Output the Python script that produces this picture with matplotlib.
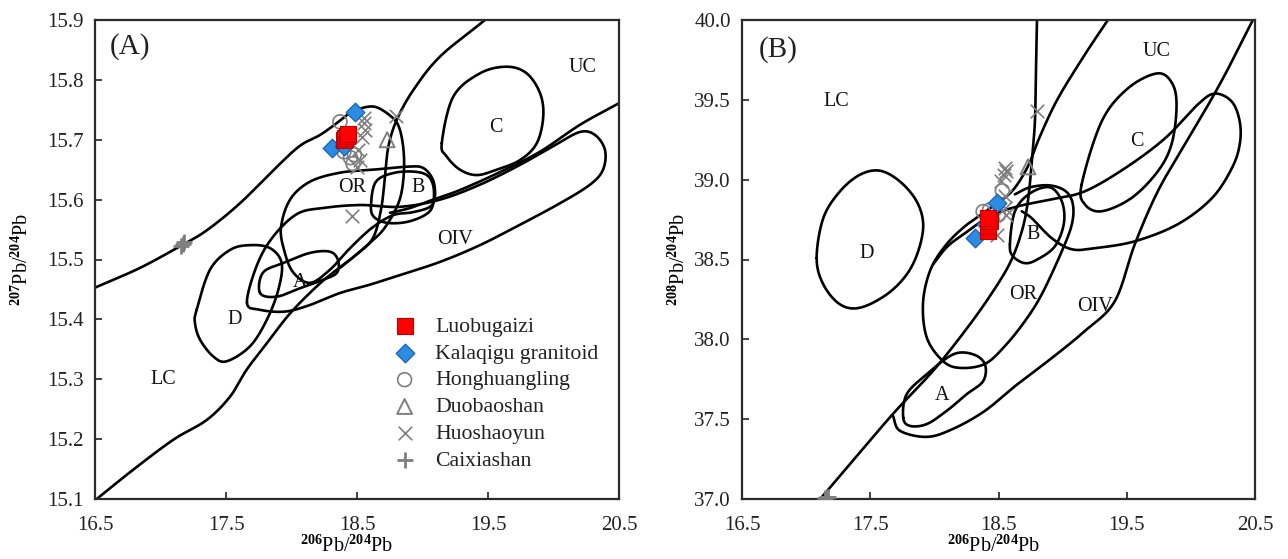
import numpy as np
import matplotlib
matplotlib.use("Agg")
import matplotlib.pyplot as plt

plt.rcParams['font.family'] = ['Liberation Serif', 'DejaVu Serif']
plt.rcParams['mathtext.fontset'] = 'custom'
plt.rcParams['mathtext.rm'] = 'Liberation Serif'
plt.rcParams['mathtext.bf'] = 'Liberation Serif:bold'

# ---------------- Panel A : 207Pb/204Pb vs 206Pb/204Pb ----------------
A_xlim = (16.5, 20.5)
A_ylim = (15.1, 15.9)
A_xticks = [16.5, 17.5, 18.5, 19.5, 20.5]
A_yticks = [15.1, 15.2, 15.3, 15.4, 15.5, 15.6, 15.7, 15.8, 15.9]

# open curves
A_curve1_x = [16.500, 16.844, 17.164, 17.355, 17.607, 17.889, 18.065, 18.218, 18.347, 18.447, 18.538, 18.637,
              18.737, 18.813, 18.851, 18.859, 18.836, 18.782, 18.698, 18.615, 18.500, 18.370]
A_curve1_y = [15.453, 15.486, 15.524, 15.549, 15.594, 15.655, 15.690, 15.708, 15.728, 15.745, 15.753, 15.755,
              15.743, 15.725, 15.691, 15.650, 15.608, 15.578, 15.549, 15.531, 15.509, 15.486]
A_curve2_x = [19.477, 19.134, 18.930, 18.803, 18.739, 18.714, 18.683, 18.622, 18.500, 18.345, 18.192, 17.989,
              17.811, 17.658, 17.531, 17.353, 17.098, 16.792, 16.513]
A_curve2_y = [15.900, 15.839, 15.783, 15.733, 15.688, 15.638, 15.583, 15.536, 15.509, 15.483, 15.455, 15.410,
              15.360, 15.316, 15.271, 15.232, 15.199, 15.149, 15.100]
A_line3_x = [20.500, 20.202, 19.897, 19.592, 19.286, 19.080, 18.905, 18.752]
A_line3_y = [15.761, 15.725, 15.680, 15.646, 15.616, 15.600, 15.586, 15.578]

# closed fields
A_or_x = [17.920, 17.989, 18.141, 18.370, 18.622, 18.882, 19.004, 19.080, 19.095, 19.057, 18.927, 18.775,
          18.615, 18.447, 18.294, 18.141, 18.011, 17.943]
A_or_y = [15.554, 15.600, 15.630, 15.645, 15.650, 15.655, 15.653, 15.633, 15.605, 15.588, 15.579, 15.574,
          15.553, 15.519, 15.483, 15.461, 15.479, 15.516]
A_oiv_x = [17.660, 17.737, 17.859, 18.042, 18.240, 18.523, 18.828, 19.134, 19.439, 19.744, 20.011, 20.202,
           20.317, 20.393, 20.378, 20.279, 20.050, 19.744, 19.439, 19.134, 18.828, 18.599, 18.370, 18.141,
           17.950, 17.760]
A_oiv_y = [15.428, 15.491, 15.538, 15.576, 15.586, 15.591, 15.588, 15.600, 15.625, 15.658, 15.691, 15.713,
           15.708, 15.683, 15.650, 15.625, 15.594, 15.558, 15.524, 15.496, 15.474, 15.458, 15.444, 15.424,
           15.413, 15.416]
A_fieldB_x = [18.607, 18.645, 18.790, 18.966, 19.057, 19.088, 19.057, 18.905, 18.737, 18.630]
A_fieldB_y = [15.591, 15.630, 15.645, 15.646, 15.636, 15.611, 15.581, 15.564, 15.561, 15.571]
A_fieldA_x = [17.760, 17.782, 17.935, 18.141, 18.294, 18.355, 18.347, 18.240, 18.088, 17.889]
A_fieldA_y = [15.444, 15.478, 15.494, 15.511, 15.513, 15.499, 15.478, 15.466, 15.454, 15.438]
A_fieldC_x = [19.147, 19.235, 19.439, 19.643, 19.795, 19.897, 19.922, 19.872, 19.744, 19.566, 19.414, 19.286, 19.185]
A_fieldC_y = [15.694, 15.772, 15.811, 15.822, 15.811, 15.778, 15.739, 15.694, 15.666, 15.650, 15.641, 15.650, 15.672]
A_fieldD_x = [17.276, 17.378, 17.531, 17.683, 17.836, 17.925, 17.899, 17.811, 17.683, 17.505, 17.403, 17.302, 17.263]
A_fieldD_y = [15.416, 15.483, 15.516, 15.524, 15.519, 15.494, 15.449, 15.399, 15.355, 15.330, 15.338, 15.366, 15.394]

A_labels = ['UC', 'C', 'OR', 'B', 'OIV', 'A', 'D', 'LC']
A_label_x = [20.225, 19.561, 18.462, 18.966, 19.248, 18.065, 17.569, 17.019]
A_label_y = [15.820, 15.720, 15.620, 15.620, 15.533, 15.461, 15.399, 15.299]

# samples (panel A)
A_luo_x = [18.40, 18.41, 18.42, 18.43]
A_luo_y = [15.700, 15.703, 15.706, 15.710]
A_kal_x = [18.485, 18.31, 18.40]
A_kal_y = [15.747, 15.686, 15.690]
A_hong_x = [18.37, 18.40, 18.45, 18.47, 18.48]
A_hong_y = [15.730, 15.680, 15.670, 15.660, 15.675]
A_duo_x = [18.73]
A_duo_y = [15.700]
A_huo_x = [18.55, 18.55, 18.56, 18.54, 18.51, 18.52, 18.50, 18.80, 18.46]
A_huo_y = [15.736, 15.728, 15.716, 15.705, 15.683, 15.666, 15.655, 15.739, 15.572]
A_cai_x = [17.16, 17.17, 17.18]
A_cai_y = [15.522, 15.526, 15.530]

# ---------------- Panel B : 208Pb/204Pb vs 206Pb/204Pb ----------------
B_xlim = (16.5, 20.5)
B_ylim = (37.0, 40.0)
B_xticks = [16.5, 17.5, 18.5, 19.5, 20.5]
B_yticks = [37.0, 37.5, 38.0, 38.5, 39.0, 39.5, 40.0]

B_lineV_x = [17.11, 17.365, 17.677, 17.989, 18.238, 18.433, 18.589, 18.682, 18.729, 18.760, 18.784, 18.792, 18.800]
B_lineV_y = [37.00, 37.240, 37.533, 37.802, 38.052, 38.271, 38.477, 38.677, 38.864, 39.114, 39.364, 39.677, 40.000]
B_lineD_x = [19.353, 19.173, 18.963, 18.823, 18.729, 18.604, 18.433, 18.238, 18.082, 17.965, 17.911, 17.942,
             18.067, 18.199, 18.394, 18.550, 18.706, 18.838, 18.994, 19.072, 19.080, 19.025, 18.901, 18.745, 18.628]
B_lineD_y = [40.000, 39.783, 39.508, 39.271, 39.083, 38.927, 38.821, 38.708, 38.583, 38.427, 38.221, 38.008,
             37.864, 37.821, 37.846, 37.958, 38.114, 38.283, 38.552, 38.721, 38.846, 38.927, 38.964, 38.952, 38.908]
B_band_x = [17.990, 18.100, 18.238, 18.433, 18.651, 18.916, 19.173, 19.485, 19.797, 20.054, 20.187, 20.319, 20.381,
            20.381, 20.319, 20.163, 19.898, 19.563, 19.251, 19.072, 18.916, 18.760, 18.682]
B_band_y = [38.470, 38.580, 38.664, 38.771, 38.833, 38.877, 38.927, 39.071, 39.258, 39.471, 39.539, 39.489, 39.364,
            39.221, 39.071, 38.883, 38.721, 38.614, 38.571, 38.564, 38.633, 38.758, 38.802]
B_lineR_x = [20.483, 20.319, 20.163, 19.953, 19.742, 19.563, 19.407, 19.173, 18.916, 18.651, 18.394, 18.145,
             17.942, 17.732, 17.677]
B_lineR_y = [40.000, 39.739, 39.508, 39.221, 38.927, 38.596, 38.239, 38.052, 37.883, 37.721, 37.552, 37.439,
             37.389, 37.427, 37.521]

B_fieldA_x = [17.757, 17.784, 17.940, 18.147, 18.303, 18.394, 18.381, 18.251, 18.096, 17.940, 17.809]
B_fieldA_y = [37.510, 37.656, 37.781, 37.906, 37.906, 37.844, 37.739, 37.656, 37.552, 37.469, 37.458]
B_fieldB_x = [18.589, 18.628, 18.745, 18.901, 18.994, 19.010, 18.940, 18.807, 18.706, 18.612]
B_fieldB_y = [38.596, 38.802, 38.914, 38.952, 38.864, 38.727, 38.583, 38.502, 38.477, 38.521]
B_fieldC_x = [19.148, 19.304, 19.509, 19.742, 19.859, 19.888, 19.849, 19.742, 19.537, 19.304, 19.173]
B_fieldC_y = [38.969, 39.364, 39.572, 39.666, 39.596, 39.448, 39.221, 39.052, 38.885, 38.802, 38.846]
B_fieldD_x = [17.082, 17.134, 17.264, 17.420, 17.576, 17.731, 17.862, 17.913, 17.874, 17.784, 17.628, 17.420,
              17.264, 17.134]
B_fieldD_y = [38.510, 38.760, 38.927, 39.031, 39.056, 38.989, 38.864, 38.719, 38.552, 38.406, 38.281, 38.198,
              38.219, 38.344]

B_labels = ['LC', 'UC', 'C', 'D', 'B', 'OR', 'OIV', 'A']
B_label_x = [17.233, 19.735, 19.579, 17.474, 18.768, 18.690, 19.255, 18.059]
B_label_y = [39.489, 39.802, 39.240, 38.539, 38.658, 38.283, 38.208, 37.648]

B_luo_x = [18.42, 18.42, 18.43, 18.42]
B_luo_y = [38.680, 38.710, 38.740, 38.760]
B_kal_x = [18.485, 18.316, 18.40]
B_kal_y = [38.854, 38.635, 38.720]
B_hong_x = [18.38, 18.43, 18.50, 18.45, 18.53]
B_hong_y = [38.800, 38.810, 38.780, 38.750, 38.930]
B_duo_x = [18.73]
B_duo_y = [39.080]
B_huo_x = [18.55, 18.54, 18.52, 18.56, 18.55, 18.56, 18.485, 18.80, 18.55]
B_huo_y = [39.073, 39.031, 38.989, 39.052, 38.822, 38.781, 38.656, 39.427, 38.900]
B_cai_x = [17.15, 17.16, 17.17]
B_cai_y = [37.005, 37.010, 37.015]

series_names = ['Luobugaizi', 'Kalaqigu granitoid', 'Honghuangling', 'Duobaoshan', 'Huoshaoyun', 'Caixiashan']


def smooth(xs, ys, closed, xr, yr, n=24):
    sx = xr[1] - xr[0]
    sy = yr[1] - yr[0]
    P = np.column_stack([(np.asarray(xs) - xr[0]) / sx, (np.asarray(ys) - yr[0]) / sy])
    if closed:
        P = np.vstack([P[-1], P, P[0], P[1]])
    else:
        P = np.vstack([2 * P[0] - P[1], P, 2 * P[-1] - P[-2]])
    t = np.linspace(0, 1, n, endpoint=False)[:, None]
    out = []
    for i in range(1, len(P) - 2):
        p0, p1, p2, p3 = P[i - 1], P[i], P[i + 1], P[i + 2]
        seg = 0.5 * (2 * p1 + (-p0 + p2) * t + (2 * p0 - 5 * p1 + 4 * p2 - p3) * t ** 2
                     + (-p0 + 3 * p1 - 3 * p2 + p3) * t ** 3)
        out.append(seg)
    out.append(P[-2][None, :])
    out = np.vstack(out)
    return out[:, 0] * sx + xr[0], out[:, 1] * sy + yr[0]


LW = 1.9
GREY = '#7f7f7f'


def draw_curve(ax, xs, ys, closed, xr, yr):
    X, Y = smooth(xs, ys, closed, xr, yr)
    ax.plot(X, Y, color='black', lw=LW, solid_capstyle='round', zorder=2)


def draw_samples(ax, d):
    h = []
    h.append(ax.scatter(d[0][0], d[0][1], marker='s', s=120, facecolor='#ff0000', edgecolor='#c00000',
                        linewidth=0.8, zorder=5))
    h.append(ax.scatter(d[1][0], d[1][1], marker='D', s=90, facecolor='#2b8ce0', edgecolor='#1560bd',
                        linewidth=0.9, zorder=4))
    h.append(ax.scatter(d[2][0], d[2][1], marker='o', s=100, facecolor='none', edgecolor=GREY,
                        linewidth=1.2, zorder=3))
    h.append(ax.scatter(d[3][0], d[3][1], marker='^', s=115, facecolor='none', edgecolor=GREY,
                        linewidth=1.4, zorder=3))
    h.append(ax.scatter(d[4][0], d[4][1], marker='x', s=95, color=GREY, linewidth=1.2, zorder=3))
    h.append(ax.scatter(d[5][0], d[5][1], marker='+', s=140, color=GREY, linewidth=2.0, zorder=3))
    return h


def style_axes(ax, xlim, ylim, xticks, yticks, yfmt):
    ax.set_xlim(*xlim)
    ax.set_ylim(*ylim)
    ax.set_xticks(xticks)
    ax.set_yticks(yticks)
    ax.set_xticklabels([f'{v:.1f}' for v in xticks])
    ax.set_yticklabels([yfmt.format(v) for v in yticks])
    ax.tick_params(direction='in', length=5, width=1.2, labelsize=15, colors='#222222',
                   top=False, right=False)
    ax.tick_params(axis='x', pad=12)
    ax.tick_params(axis='y', pad=8)
    for sp in ax.spines.values():
        sp.set_linewidth(1.6)
        sp.set_color('#2b2b2b')


fig = plt.figure(figsize=(12.88, 5.59), dpi=100)
axA = fig.add_axes([95 / 1288, 60 / 559, 524 / 1288, 479 / 559])
axB = fig.add_axes([742 / 1288, 60 / 559, 513 / 1288, 479 / 559])

# ---- Panel A
for xs, ys, cl in [(A_curve1_x, A_curve1_y, False), (A_curve2_x, A_curve2_y, False),
                   (A_line3_x, A_line3_y, False), (A_or_x, A_or_y, True), (A_oiv_x, A_oiv_y, True),
                   (A_fieldB_x, A_fieldB_y, True), (A_fieldA_x, A_fieldA_y, True),
                   (A_fieldC_x, A_fieldC_y, True), (A_fieldD_x, A_fieldD_y, True)]:
    draw_curve(axA, xs, ys, cl, A_xlim, A_ylim)
for t, x, y in zip(A_labels, A_label_x, A_label_y):
    axA.text(x, y, t, fontsize=14.5, ha='center', va='center', color='#111111', zorder=6)
axA.text(16.77, 15.855, '(A)', fontsize=21, ha='center', va='center', color='#222222')
hA = draw_samples(axA, [(A_luo_x, A_luo_y), (A_kal_x, A_kal_y), (A_hong_x, A_hong_y),
                        (A_duo_x, A_duo_y), (A_huo_x, A_huo_y), (A_cai_x, A_cai_y)])
style_axes(axA, A_xlim, A_ylim, A_xticks, A_yticks, '{:.1f}')
axA.set_xlabel(r'$^{\mathbf{206}}$Pb/$^{\mathbf{204}}$Pb', fontsize=14.5)
axA.set_ylabel(r'$^{\mathbf{207}}$Pb/$^{\mathbf{204}}$Pb', fontsize=14.5)
axA.xaxis.set_label_coords(0.48, -0.074)
axA.yaxis.set_label_coords(-0.118, 0.5)

leg = axA.legend(hA, series_names, loc='upper left', bbox_to_anchor=(0.57, 0.381), frameon=False,
                 fontsize=15.7, borderpad=0, handlelength=1.0, handletextpad=0.9, labelspacing=0.3,
                 borderaxespad=0)
for txt in leg.get_texts():
    txt.set_color('#222222')

# ---- Panel B
for xs, ys, cl in [(B_lineV_x, B_lineV_y, False), (B_lineD_x, B_lineD_y, False),
                   (B_band_x, B_band_y, False), (B_lineR_x, B_lineR_y, False),
                   (B_fieldA_x, B_fieldA_y, True), (B_fieldB_x, B_fieldB_y, True),
                   (B_fieldC_x, B_fieldC_y, True), (B_fieldD_x, B_fieldD_y, True)]:
    draw_curve(axB, xs, ys, cl, B_xlim, B_ylim)
for t, x, y in zip(B_labels, B_label_x, B_label_y):
    axB.text(x, y, t, fontsize=14.5, ha='center', va='center', color='#111111', zorder=6)
axB.text(16.78, 39.814, '(B)', fontsize=21, ha='center', va='center', color='#222222')
draw_samples(axB, [(B_luo_x, B_luo_y), (B_kal_x, B_kal_y), (B_hong_x, B_hong_y),
                   (B_duo_x, B_duo_y), (B_huo_x, B_huo_y), (B_cai_x, B_cai_y)])
style_axes(axB, B_xlim, B_ylim, B_xticks, B_yticks, '{:.1f}')
axB.set_xlabel(r'$^{\mathbf{206}}$Pb/$^{\mathbf{204}}$Pb', fontsize=14.5)
axB.set_ylabel(r'$^{\mathbf{208}}$Pb/$^{\mathbf{204}}$Pb', fontsize=14.5)
axB.xaxis.set_label_coords(0.49, -0.074)
axB.yaxis.set_label_coords(-0.102, 0.5)

fig.savefig('out.png', dpi=100)
